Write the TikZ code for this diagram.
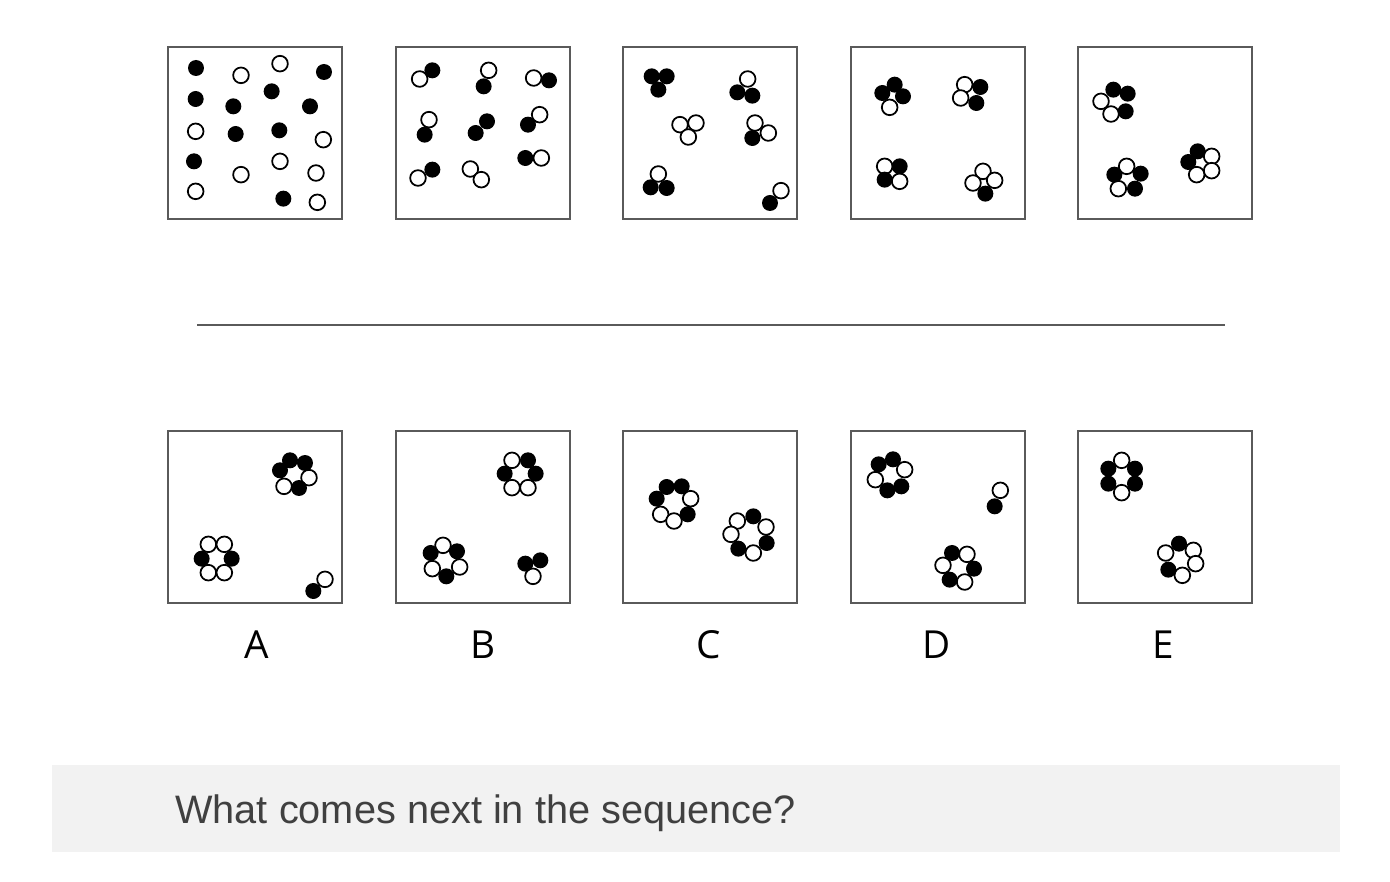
\documentclass[tikz,border=0pt]{standalone}
\usepackage{fontspec}
\setmainfont{Liberation Sans}
\newfontfamily\labelfont{Open Sans}
\definecolor{qgray}{HTML}{404040}
\definecolor{bargray}{HTML}{F2F2F2}
\definecolor{framegray}{HTML}{5A5A5A}

\tikzset{
  puzzlebox/.style={draw=framegray, line width=1.1pt},
  bdot/.style={fill=black},
  wdot/.style={draw=black, fill=white, line width=1pt},
  panelunits/.style={x=0.006667cm, y=-0.006667cm},
  letter/.style={font=\labelfont\fontsize{22}{26}\selectfont, anchor=base, inner sep=0pt}
}

\begin{document}
\begin{tikzpicture}[x=0.02cm, y=-0.02cm]
\useasboundingbox (0,0) rectangle (1390,882);

% top row
\begin{scope}[shift={(165,43)}, panelunits]
  \draw[puzzlebox] (10,12) rectangle (530,528);
  \foreach \p in {(228,97),(345,62),(92,265),(475,290),(345,355),(228,395),(453,390),(92,445),(457,478)}
    \draw[wdot] \p circle (23.5);
  \foreach \p in {(93,75),(477,87),(320,145),(92,168),(205,190),(435,190),(212,273),(343,262),(87,355),(355,467)}
    \fill[bdot] \p circle (24);
\end{scope}

\begin{scope}[shift={(393,43)}, panelunits]
  \draw[puzzlebox] (10,12) rectangle (530,528);
  \foreach \p in {(80,108),(287,82),(422,105),(108,230),(440,215),(445,345),(75,405),(232,378),(265,410)}
    \draw[wdot] \p circle (23.5);
  \foreach \p in {(118,82),(272,130),(468,112),(95,275),(248,270),(282,235),(405,245),(397,345),(118,380)}
    \fill[bdot] \p circle (24);
\end{scope}

\begin{scope}[shift={(620,43)}, panelunits]
  \draw[puzzlebox] (10,12) rectangle (530,528);
  \foreach \p in {(383,108),(180,245),(228,240),(205,282),(405,240),(445,270),(115,393),(483,443)}
    \draw[wdot] \p circle (23.5);
  \foreach \p in {(95,100),(140,100),(115,140),(352,148),(397,158),(397,285),(92,433),(140,435),(450,480)}
    \fill[bdot] \p circle (24);
\end{scope}

\begin{scope}[shift={(848,43)}, panelunits]
  \draw[puzzlebox] (10,12) rectangle (530,528);
  \foreach \p in {(125,193),(350,125),(338,165),(110,370),(155,415),(405,385),(375,420),(440,412)}
    \draw[wdot] \p circle (23.5);
  \foreach \p in {(140,125),(103,150),(165,160),(397,132),(385,180),(155,370),(110,410),(412,452)}
    \fill[bdot] \p circle (24);
\end{scope}

\begin{scope}[shift={(1075,43)}, panelunits]
  \draw[puzzlebox] (10,12) rectangle (530,528);
  \foreach \p in {(78,175),(108,213),(155,370),(130,437),(410,340),(365,395),(410,383)}
    \draw[wdot] \p circle (23.5);
  \foreach \p in {(115,140),(158,152),(152,205),(118,395),(197,392),(180,437),(368,325),(340,357)}
    \fill[bdot] \p circle (24);
\end{scope}

% divider
\draw[framegray, line width=0.8pt] (197,325) -- (1225,325);

% answer row
\begin{scope}[shift={(165,427)}, panelunits]
  \draw[puzzlebox] (10,12) rectangle (530,528);
  \foreach \p in {(432,152),(357,178),(130,352),(178,352),(130,437),(178,437),(480,457)}
    \draw[wdot] \p circle (23.5);
  \foreach \p in {(375,100),(420,108),(345,130),(402,183),(110,395),(200,395),(445,492)}
    \fill[bdot] \p circle (24);
\end{scope}

\begin{scope}[shift={(393,427)}, panelunits]
  \draw[puzzlebox] (10,12) rectangle (530,528);
  \foreach \p in {(357,100),(357,182),(405,182),(150,355),(118,425),(200,420),(420,448)}
    \draw[wdot] \p circle (23.5);
  \foreach \p in {(405,100),(335,140),(428,140),(113,378),(192,373),(160,448),(397,410),(442,400)}
    \fill[bdot] \p circle (24);
\end{scope}

\begin{scope}[shift={(620,427)}, panelunits]
  \draw[puzzlebox] (10,12) rectangle (530,528);
  \foreach \p in {(212,215),(122,262),(162,282),(352,282),(438,300),(333,322),(400,378)}
    \draw[wdot] \p circle (23.5);
  \foreach \p in {(140,180),(185,178),(110,215),(203,262),(400,268),(440,348),(355,365)}
    \fill[bdot] \p circle (24);
\end{scope}

\begin{scope}[shift={(848,427)}, panelunits]
  \draw[puzzlebox] (10,12) rectangle (530,528);
  \foreach \p in {(170,128),(82,158),(457,190),(357,382),(285,415),(350,465)}
    \draw[wdot] \p circle (23.5);
  \foreach \p in {(92,112),(135,97),(118,190),(160,178),(440,238),(312,378),(378,425),(305,458)}
    \fill[bdot] \p circle (24);
\end{scope}

\begin{scope}[shift={(1075,427)}, panelunits]
  \draw[puzzlebox] (10,12) rectangle (530,528);
  \foreach \p in {(140,100),(140,197),(272,378),(355,370),(362,410),(322,445)}
    \draw[wdot] \p circle (23.5);
  \foreach \p in {(100,125),(180,125),(100,170),(180,170),(312,350),(280,428)}
    \fill[bdot] \p circle (24);
\end{scope}

% option letters
\node[letter] (labA) at (257,658) {A};
\node[letter] (labB) at (483,658) {B};
\node[letter] (labC) at (709,658) {C};
\node[letter] (labD) at (937,658) {D};
\node[letter] (labE) at (1163,658) {E};

% question bar
\fill[bargray] (52,765) rectangle (1340,852);
\node[anchor=base west, inner sep=0pt, text=qgray, font=\fontsize{22.6}{27}\selectfont] (question) at (175,823) {What comes next in the sequence?};
\end{tikzpicture}
\end{document}
